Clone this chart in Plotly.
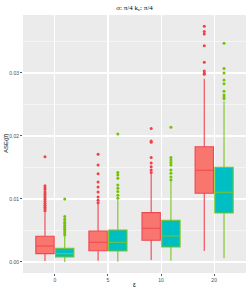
import plotly.graph_objects as go

categories = ['0', '5', '10', '20']

# Group A (red)
a_q1 = [0.00132, 0.00179, 0.00344, 0.0109]
a_med = [0.00254, 0.00313, 0.00535, 0.01456]
a_q3 = [0.00408, 0.00492, 0.00783, 0.0183]
a_lo = [0.00016, 0.0002, 0.0003, 0.00175]
a_hi = [0.0078, 0.0093, 0.0140, 0.0291]
a_out = [
    [0.0081, 0.0084, 0.0087, 0.0090, 0.0093, 0.0096, 0.0099, 0.0102, 0.0105, 0.0108, 0.0111, 0.0115, 0.0118, 0.0121, 0.0167],
    [0.0094, 0.0098, 0.0103, 0.0111, 0.0119, 0.0127, 0.0140, 0.0154, 0.0171],
    [0.0142, 0.0146, 0.0151, 0.0157, 0.0166, 0.0190, 0.0192, 0.0212],
    [0.0298, 0.0300, 0.0303, 0.0317, 0.0343, 0.0362, 0.0366, 0.0374],
]

# Group B (teal)
b_q1 = [0.00079, 0.00175, 0.00238, 0.00778]
b_med = [0.00132, 0.00313, 0.00413, 0.01106]
b_q3 = [0.00217, 0.00508, 0.00662, 0.01503]
b_lo = [0.0, 0.00005, 0.0002, 0.0006]
b_hi = [0.0041, 0.0098, 0.0128, 0.0255]
b_out = [
    [0.0043, 0.0046, 0.0049, 0.0052, 0.0055, 0.0058, 0.0061, 0.0064, 0.0068, 0.0072, 0.0100],
    [0.0101, 0.0106, 0.0112, 0.0117, 0.0122, 0.0133, 0.0138, 0.0142, 0.0203],
    [0.0130, 0.0135, 0.0141, 0.0146, 0.0154, 0.0158, 0.0162, 0.0166, 0.0214],
    [0.0259, 0.0262, 0.0265, 0.0271, 0.0283, 0.0289, 0.0300, 0.0307, 0.0347],
]

y_ticks = [0.0, 0.01, 0.02, 0.03]
y_tick_labels = ['0.00', '0.01', '0.02', '0.03']

DODGE = 0.186
BOX_W = 0.345

groups = [
    dict(q1=a_q1, med=a_med, q3=a_q3, lo=a_lo, hi=a_hi, out=a_out, off=-DODGE,
         fill='#F8766D', line='#EE4750', pt='#F0404A'),
    dict(q1=b_q1, med=b_med, q3=b_q3, lo=b_lo, hi=b_hi, out=b_out, off=DODGE,
         fill='#00BFC4', line='#7CC520', pt='#72C400'),
]

fig = go.Figure()
for g in groups:
    for i, c in enumerate(categories):
        pos = i + g['off']
        fig.add_trace(go.Box(
            x=[pos], q1=[g['q1'][i]], median=[g['med'][i]], q3=[g['q3'][i]],
            lowerfence=[g['lo'][i]], upperfence=[g['hi'][i]],
            width=BOX_W, whiskerwidth=0, boxpoints=False,
            fillcolor=g['fill'], line=dict(color=g['line'], width=1.1),
            showlegend=False, hoverinfo='skip'))
        fig.add_trace(go.Scatter(
            x=[pos] * len(g['out'][i]), y=g['out'][i], mode='markers',
            marker=dict(color=g['pt'], size=3.0, line=dict(width=0)),
            showlegend=False, hoverinfo='skip'))

PANEL_H = 291 - 15 - 18
PANEL_W = 249 - 23 - 3

fig.update_layout(
    width=249, height=291,
    margin=dict(l=23, r=3, t=15, b=18),
    paper_bgcolor='white', plot_bgcolor='#EBEBEB',
    font=dict(family='Liberation Sans, Arial, sans-serif', color='#4D4D4D', size=5),
    title=dict(text='σ: π/4 k<sub>c</sub>: π/4', x=0.5, xref='paper', xanchor='center',
               y=1 - 7.5 / 291, yref='container', yanchor='middle',
               font=dict(size=7, color='black', family='Liberation Serif, serif')),
    xaxis=dict(range=[-0.6, 3.6], tickvals=list(range(len(categories))), ticktext=categories,
               showgrid=True, gridcolor='white', gridwidth=1.1, zeroline=False,
               ticks='outside', ticklen=2, tickcolor='#333333', tickwidth=0.8,
               tickfont=dict(size=5, color='#4D4D4D')),
    yaxis=dict(range=[-0.00175, 0.0392], tickvals=y_ticks, ticktext=y_tick_labels,
               showgrid=True, gridcolor='white', gridwidth=1.1, zeroline=False,
               ticks='outside', ticklen=2, tickcolor='#333333', tickwidth=0.8,
               tickfont=dict(size=5, color='#4D4D4D'),
               minor=dict(dtick=0.005, tick0=0.005, showgrid=True, gridcolor='white',
                          gridwidth=0.5, ticks='')),
    annotations=[
        dict(text='ε', xref='paper', yref='paper', x=0.5, y=-(284 - 273) / PANEL_H,
             xanchor='center', yanchor='middle', showarrow=False, borderpad=0,
             font=dict(size=6.5, color='black')),
        dict(text='ASE(β\u0302)', xref='paper', yref='paper', x=-(23 - 6) / PANEL_W, y=0.5,
             xanchor='center', yanchor='middle', textangle=-90, showarrow=False, borderpad=0,
             font=dict(size=6, color='black')),
    ],
)

fig.write_html('out.html',
               config={'displayModeBar': False, 'staticPlot': True},
               post_script="document.body.style.margin='0';document.body.style.padding='0';"
                           "document.body.style.overflow='hidden';")
